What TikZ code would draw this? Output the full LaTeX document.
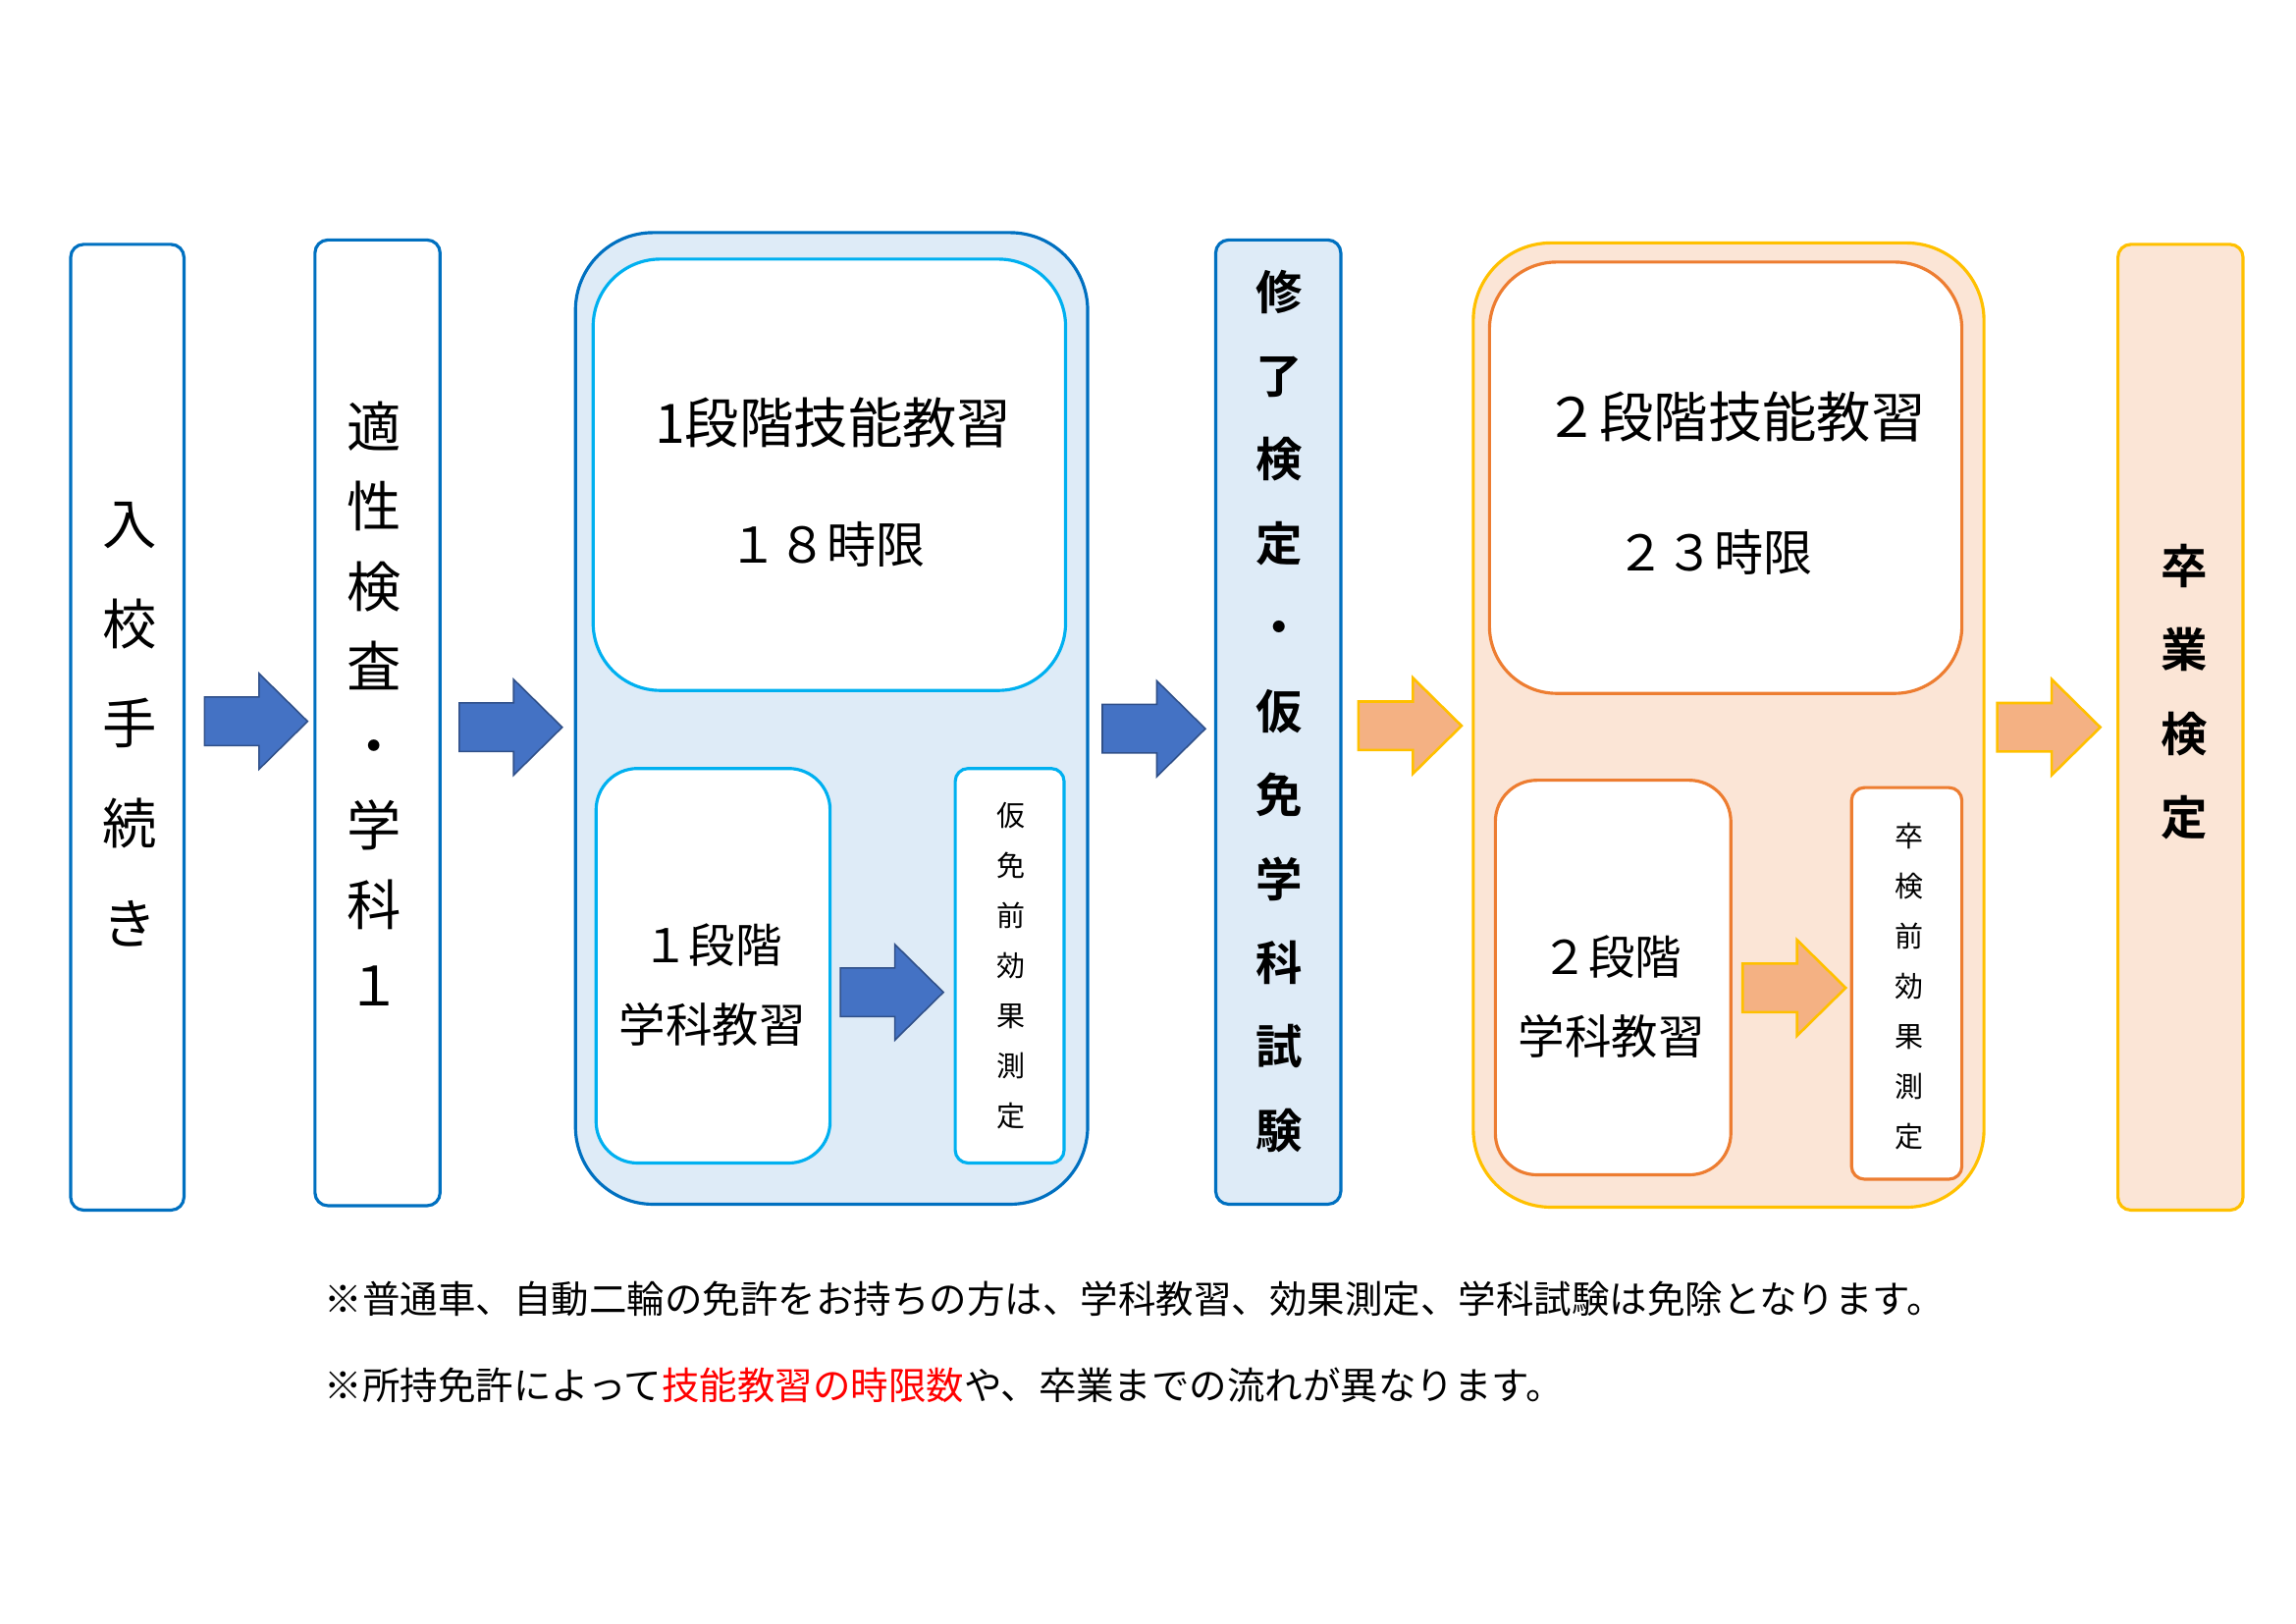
\documentclass[tikz,border=0pt]{standalone}
\usepackage{fontspec}
\setmainfont{Noto Sans CJK JP}
\newfontfamily\jpb{Noto Sans CJK JP Bold}
\definecolor{lblue}{HTML}{DEEBF7}
\definecolor{bord}{HTML}{0070C0}
\definecolor{cyb}{HTML}{00B0F0}
\definecolor{arb}{HTML}{4472C4}
\definecolor{lor}{HTML}{FBE5D6}
\definecolor{orb}{HTML}{ED7D31}
\definecolor{yel}{HTML}{FFC000}
\definecolor{aro}{HTML}{F4B183}
\begin{document}
\begin{tikzpicture}[x=0.01cm,y=-0.01cm,
  blueline/.style={draw=bord,line width=0.6pt},
  cyanline/.style={draw=cyb,line width=0.6pt},
  oline/.style={draw=orb,line width=0.6pt},
  yline/.style={draw=yel,line width=0.6pt},
  barr/.style={fill=arb,draw=arb!70!black,line width=0.3pt},
  oarr/.style={fill=aro,draw=yel,line width=0.5pt},
  pics/blk/.style={code={\path[#1] (0,-16.5) -- (37,-16.5) -- (37,-32.5) -- (70,0) -- (37,32.5) -- (37,16.5) -- (0,16.5) -- cycle;}},
  vt/.style={align=center,inner sep=0pt}]
\useasboundingbox (0,0) rectangle (1560,1103);
\draw[blueline,rounded corners=2.5pt] (48,166) rectangle (125,822);
\node[vt,font=\fontsize{10.5}{19.3}\selectfont] (a) at (88,492) {入\\校\\手\\続\\き};
\draw[blueline,rounded corners=2.5pt] (214,163) rectangle (299,819);
\node[vt,font=\fontsize{10.5}{15.4}\selectfont] (b) at (254,478) {適\\性\\検\\査\\・\\学\\科\\１};
\pic at (139,490) {blk=barr};
\pic at (312,494) {blk=barr};
\draw[blueline,fill=lblue,rounded corners=15pt] (391,158) rectangle (739,818);
\draw[cyanline,fill=white,rounded corners=13pt] (403,176) rectangle (724,469);
\node[font=\fontsize{10.5}{12}\selectfont] (c1) at (566,287) {1段階技能教習};
\node[font=\fontsize{9.5}{12}\selectfont] (c2) at (562,370) {１８時限};
\draw[cyanline,fill=white,rounded corners=8pt] (405,522) rectangle (564,790);
\node[vt,font=\fontsize{9}{15.5}\selectfont] (c3) at (484,669) {１段階\\学科教習};
\pic at (571,674) {blk=barr};
\draw[cyanline,fill=white,rounded corners=2.5pt] (649,522) rectangle (723,790);
\node[vt,font=\fontsize{5.5}{9.65}\selectfont] (c4) at (687,656) {仮\\免\\前\\効\\果\\測\\定};
\pic at (749,495) {blk=barr};
\draw[blueline,fill=lblue,rounded corners=2.5pt] (826,163) rectangle (911,818);
\node[vt,font=\fontsize{9}{16.2}\selectfont\jpb] (d) at (869,483) {修\\了\\検\\定\\・\\仮\\免\\学\\科\\試\\験};
\pic at (923,493) {blk=oarr};
\draw[yline,fill=lor,rounded corners=15pt] (1001,165) rectangle (1348,820);
\draw[oline,fill=white,rounded corners=13pt] (1012,178) rectangle (1333,471);
\node[font=\fontsize{10.5}{12}\selectfont] (e1) at (1179,283) {２段階技能教習};
\node[font=\fontsize{9.5}{12}\selectfont] (e2) at (1165,375) {２３時限};
\draw[oline,fill=white,rounded corners=8pt] (1016,530) rectangle (1176,798);
\node[vt,font=\fontsize{9}{15.5}\selectfont] (e3) at (1095,677) {２段階\\学科教習};
\pic at (1184,671) {blk=oarr};
\draw[oline,fill=white,rounded corners=2.5pt] (1258,535) rectangle (1333,801);
\node[vt,font=\fontsize{5.5}{9.65}\selectfont] (e4) at (1297,670) {卒\\検\\前\\効\\果\\測\\定};
\pic at (1357,494) {blk=oarr};
\draw[yline,fill=lor,rounded corners=2.5pt] (1439,166) rectangle (1524,822);
\node[vt,font=\fontsize{9}{16.2}\selectfont\jpb] (f) at (1484,470) {卒\\業\\検\\定};
\node[anchor=west,inner sep=0pt,font=\fontsize{7.3}{9}\selectfont] (n1) at (220,882) {※普通車、自動二輪の免許をお持ちの方は、学科教習、効果測定、学科試験は免除となります。};
\node[anchor=west,inner sep=0pt,font=\fontsize{7.3}{9}\selectfont] (n2) at (220,941) {※所持免許によって\textcolor{red}{技能教習の時限数}や、卒業までの流れが異なります。};
\end{tikzpicture}
\end{document}
